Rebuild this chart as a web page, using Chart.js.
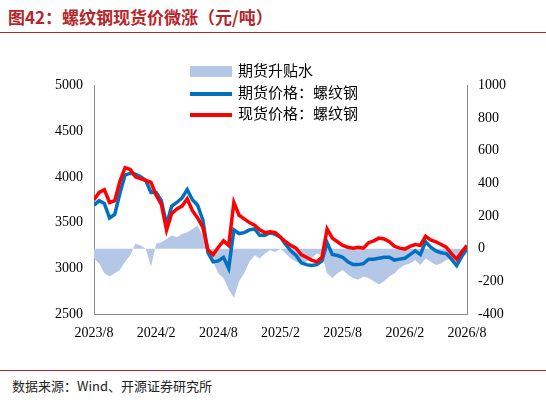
<!DOCTYPE html><html><head><meta charset="utf-8">
<script src="https://cdn.jsdelivr.net/npm/chart.js@4"></script>
<style>
body{margin:0;width:546px;height:405px;background:#fff;position:relative;font-family:"Noto Sans CJK SC";overflow:hidden}
#t{position:absolute;left:8px;top:4px;font-size:17px;font-weight:bold;color:#b4262a}
#l1{position:absolute;left:0;top:32px;width:546px;border-top:1.5px solid #b4262a}
#l2{position:absolute;left:0;top:370px;width:546px;border-top:1px solid #b4262a}
#f{position:absolute;left:12px;top:376px;font-size:13px;color:#222}
#c{position:absolute;left:0;top:74px;width:546px;height:272px}
.lg{position:absolute;left:190px;font-size:15px;color:#000;height:20px;line-height:20px}
.lg i{display:inline-block;width:42px;vertical-align:middle;margin-right:6px}
</style></head><body>
<div id="t">图42：螺纹钢现货价微涨（元/吨）</div><div id="l1"></div>
<div id="c"><canvas id="cv"></canvas></div>
<div class="lg" style="top:60px"><i style="height:11px;background:#b4c7e7"></i>期货升贴水</div>
<div class="lg" style="top:82px"><i style="height:4px;background:#0070c0"></i>期货价格：螺纹钢</div>
<div class="lg" style="top:103px"><i style="height:4px;background:#ff0000"></i>现货价格：螺纹钢</div>
<div id="l2"></div><div id="f">数据来源：Wind、开源证券研究所</div>
<script>
const tickLabels={0:"2023/8",6:"2024/2",12:"2024/8",18:"2025/2",24:"2025/8",30:"2026/2",36:"2026/8"};
const months=[];for(let i=0;i<=72;i++)months.push(i/2);
const spot=[3750,3830,3860,3720,3740,3950,4100,4080,4000,3980,3960,3940,3800,3700,3420,3600,3650,3680,3760,3630,3550,3450,3200,3150,3230,3300,3250,3720,3580,3540,3500,3470,3420,3390,3400,3390,3340,3290,3250,3220,3150,3120,3090,3070,3120,3430,3330,3290,3250,3230,3220,3230,3220,3280,3300,3330,3320,3290,3240,3220,3210,3240,3260,3250,3350,3310,3290,3260,3230,3160,3100,3180,3250];
const basis=[-60,-90,-150,-170,-150,-130,-80,-40,30,20,0,-110,30,40,60,80,70,90,100,120,140,80,-30,-80,-150,-180,-250,-300,-200,-150,-80,-40,-60,-30,-10,-20,0,-30,-60,-80,-90,-80,-60,-30,-40,-150,-180,-150,-130,-160,-180,-190,-170,-180,-200,-220,-200,-170,-150,-120,-100,-90,-70,-100,-60,-80,-100,-90,-70,-60,-70,-50,-30];
const fut=spot.map((v,i)=>v+basis[i]);
const xy=a=>a.map((v,i)=>({x:months[i],y:v}));
const font={family:"Liberation Serif",size:14};
new Chart(document.getElementById('cv'),{type:'line',data:{datasets:[
{data:xy(spot),yAxisID:'y',borderColor:'#ff0000',borderWidth:3.5,pointRadius:0,tension:0,order:1},
{data:xy(fut),yAxisID:'y',borderColor:'#0070c0',borderWidth:3.5,pointRadius:0,tension:0,order:2},
{data:xy(basis),yAxisID:'y1',borderWidth:0,backgroundColor:'#b4c7e7',fill:'origin',pointRadius:0,order:3}
]},options:{animation:false,responsive:true,maintainAspectRatio:false,layout:{padding:{top:10}},
plugins:{legend:{display:false},tooltip:{enabled:false}},
scales:{
x:{type:'linear',min:0,max:36,afterBuildTicks:s=>{s.ticks=[0,6,12,18,24,30,36].map(v=>({value:v}))},
ticks:{callback:v=>tickLabels[v],color:'#000',font,maxRotation:0,autoSkip:false},grid:{display:false,drawTicks:true},border:{color:'#888'},afterFit:s=>{s.height=32}},
y:{min:2500,max:5000,ticks:{stepSize:500,color:'#000',font,callback:v=>String(v)},grid:{display:false},border:{color:'#888'},afterFit:s=>{s.width=94}},
y1:{position:'right',min:-400,max:1000,ticks:{stepSize:200,color:'#000',font,callback:v=>String(v)},grid:{display:false},border:{color:'#888'},afterFit:s=>{s.width=79}}
}}});
</script></body></html>
